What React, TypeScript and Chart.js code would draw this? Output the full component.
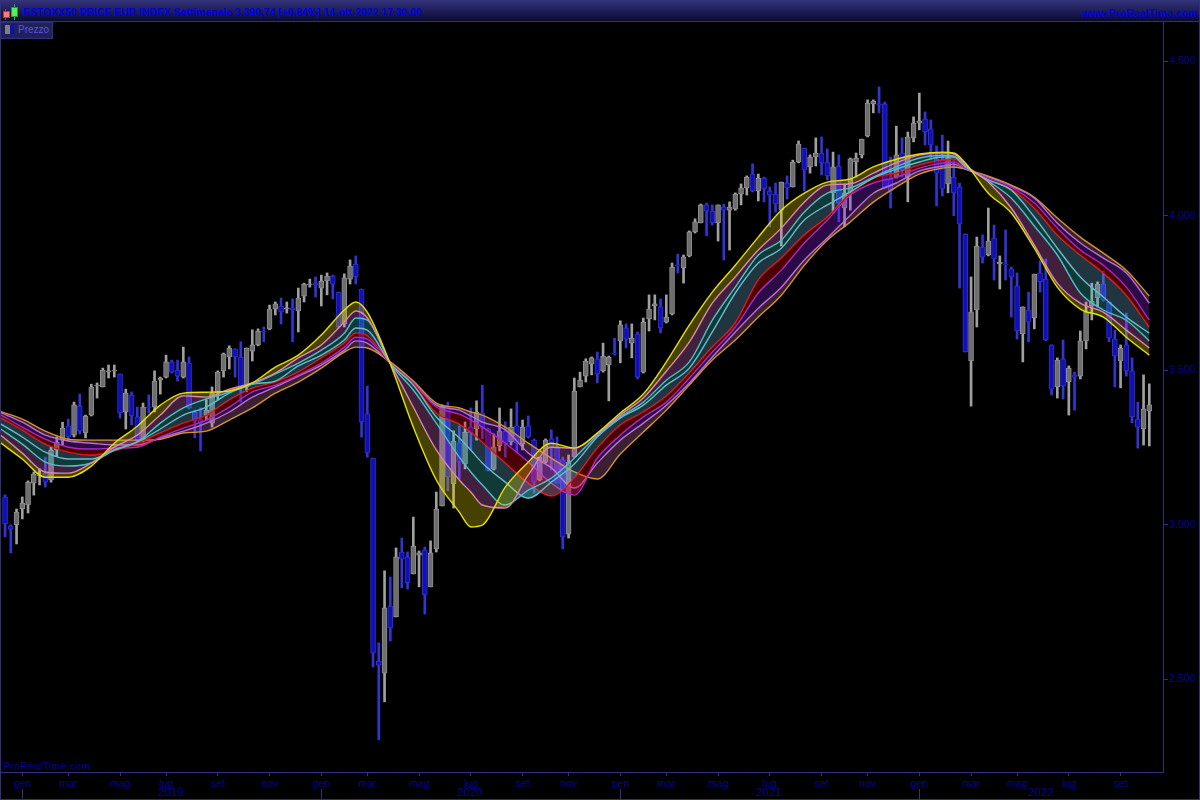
import React, { useEffect, useRef } from "react";
import { Chart, registerables } from "chart.js";

Chart.register(...registerables);

const opens = [
3090,2996,3000,3051,3064,3135,3158,3167,3145,3242,
3274,3320,3290,3384,3297,3355,3449,3446,3494,3498,
3488,3365,3420,3349,3274,3381,3381,3468,3478,3527,
3501,3478,3524,3365,3339,3355,3329,3427,3498,3543,
3569,3543,3446,3562,3582,3627,3634,3698,3708,3698,
3702,3692,3740,3776,3782,3766,3789,3805,3753,3650,
3795,3844,3763,3359,3216,2559,2520,2737,2702,2912,
2896,2841,2902,2919,2799,2922,3061,3384,3132,3265,
3197,3316,3310,3362,3310,3180,3255,3303,3268,3320,
3261,3320,3274,3145,3203,3278,3249,3210,2970,3219,
3446,3481,3520,3537,3498,3517,3556,3595,3637,3588,
3617,3494,3666,3708,3705,3656,3682,3841,3831,3870,
3948,3977,4035,4015,3977,4028,4018,4022,4070,4090,
4135,4080,4122,4080,4070,4018,4106,4093,4174,4219,
4158,4190,4203,4174,4074,4161,4025,4074,4174,4197,
4258,4362,4362,4362,4119,4125,4203,4125,4252,4300,
4313,4281,4184,4180,4103,4125,4093,3941,3530,3695,
3899,3873,3928,3844,3844,3828,3773,3618,3695,3669,
3815,3795,3582,3446,3537,3462,3485,3481,3595,3708,
3734,3779,3721,3601,3530,3582,3498,3342,3310,3368,
];
const highs = [
3097,3000,3051,3090,3142,3171,3181,3219,3252,3284,
3332,3342,3397,3423,3355,3455,3459,3507,3517,3517,
3488,3439,3430,3381,3394,3420,3498,3478,3549,3533,
3533,3575,3543,3371,3378,3404,3446,3498,3556,3579,
3569,3592,3572,3631,3634,3640,3711,3721,3734,3721,
3731,3766,3782,3795,3802,3808,3815,3808,3753,3812,
3857,3870,3763,3449,3216,2618,2851,2831,2925,2957,
2912,3025,2915,2928,2948,3106,3388,3397,3304,3320,
3333,3378,3401,3452,3313,3294,3378,3333,3375,3397,
3339,3352,3278,3219,3278,3307,3284,3219,3226,3475,
3494,3537,3543,3559,3588,3546,3604,3660,3650,3650,
3624,3669,3744,3744,3731,3744,3847,3876,3873,3951,
3990,4038,4041,4035,4035,4038,4045,4074,4103,4129,
4168,4135,4125,4093,4106,4109,4129,4180,4242,4219,
4197,4252,4255,4216,4206,4197,4103,4187,4203,4248,
4375,4375,4417,4368,4190,4290,4252,4271,4320,4397,
4336,4310,4226,4261,4242,4180,4106,3941,3802,3931,
3938,4025,3970,3870,3954,3834,3815,3705,3753,3811,
3854,3860,3582,3540,3598,3514,3494,3627,3721,3782,
3786,3821,3721,3630,3582,3685,3540,3397,3485,3456,
];
const lows = [
2961,2909,2938,3019,3038,3096,3129,3122,3138,3222,
3258,3271,3284,3294,3281,3352,3410,3446,3475,3478,
3345,3310,3323,3268,3268,3362,3365,3423,3475,3491,
3465,3475,3375,3281,3239,3339,3316,3404,3478,3504,
3478,3397,3430,3530,3579,3592,3631,3679,3650,3685,
3592,3624,3721,3769,3737,3708,3744,3731,3637,3640,
3779,3779,3284,3219,2540,2304,2427,2624,2702,2796,
2792,2841,2799,2711,2799,2912,3061,3110,3054,3148,
3181,3242,3274,3278,3174,3177,3239,3219,3258,3232,
3242,3281,3103,3142,3200,3177,3135,2922,2957,3219,
3446,3462,3485,3459,3494,3401,3549,3524,3572,3540,
3472,3491,3627,3663,3621,3653,3679,3815,3782,3867,
3944,3977,3935,3970,3918,3857,3889,4018,4035,4067,
4077,4048,4045,3964,4012,3902,4054,4093,4171,4080,
4138,4161,4132,4116,4009,3980,3964,4018,4125,4187,
4255,4333,4333,4090,4025,4122,4125,4045,4239,4278,
4229,4187,4032,4064,4074,4000,3766,3559,3384,3640,
3847,3870,3792,3763,3792,3672,3601,3527,3592,3634,
3753,3595,3420,3410,3407,3355,3371,3472,3569,3663,
3705,3724,3592,3446,3443,3481,3330,3248,3258,3255,
];
const closes = [
3003,2986,3041,3070,3138,3164,3161,3138,3242,3268,
3313,3284,3388,3303,3352,3446,3452,3501,3498,3501,
3362,3426,3352,3274,3381,3378,3465,3475,3527,3494,
3481,3527,3378,3336,3329,3371,3427,3494,3553,3572,
3543,3446,3572,3582,3627,3624,3698,3715,3689,3702,
3695,3734,3779,3779,3776,3789,3805,3779,3640,3799,
3837,3802,3333,3232,2585,2546,2731,2666,2896,2889,
2812,2931,2909,2773,2909,3051,3384,3155,3271,3203,
3300,3297,3365,3313,3177,3252,3303,3261,3316,3265,
3316,3284,3138,3219,3274,3249,3135,2961,3203,3433,
3468,3530,3540,3488,3546,3543,3553,3647,3601,3604,
3478,3656,3698,3715,3637,3672,3834,3838,3867,3948,
3980,4035,4015,3977,4035,4018,4028,4070,4090,4125,
4080,4122,4087,4067,4038,4109,4090,4174,4232,4148,
4190,4203,4171,4129,4158,4041,4074,4184,4187,4248,
4365,4371,4358,4090,4080,4197,4148,4255,4300,4307,
4271,4229,4138,4087,4187,4074,3973,3559,3689,3902,
3866,3918,3860,3850,3841,3802,3627,3705,3656,3811,
3786,3598,3439,3533,3449,3507,3478,3595,3689,3724,
3779,3727,3605,3546,3572,3498,3349,3316,3375,3388,
];

const knotIndex = [-1,3,7,11,15,19,23,27,31,35,39,43,47,51,55,59,61,63,67,71,75,79,81,83,87,91,95,99,103,107,111,115,119,123,127,131,135,139,143,147,151,155,159,163,165,167,171,175,179,183,187,191,195,199];

const yellowBand = [3268,3213,3154,3154,3190,3264,3319,3387,3426,3429,3433,3459,3510,3549,3614,3695,3721,3688,3520,3316,3145,3041,2993,2999,3122,3203,3264,3248,3297,3362,3423,3527,3646,3753,3840,3931,4018,4073,4109,4119,4158,4183,4200,4206,4203,4171,4073,4009,3895,3769,3698,3672,3607,3549];
const pinkBand = [3294,3232,3171,3167,3200,3251,3290,3355,3417,3413,3439,3459,3491,3540,3582,3656,3692,3669,3523,3381,3242,3145,3106,3064,3054,3161,3251,3248,3294,3355,3410,3497,3591,3717,3802,3889,3960,4044,4099,4103,4138,4171,4196,4203,4200,4164,4109,4025,3905,3782,3717,3688,3630,3572];
const turquoiseBand = [3313,3261,3203,3190,3200,3242,3268,3329,3378,3407,3429,3455,3488,3523,3565,3620,3669,3662,3523,3436,3329,3219,3171,3129,3064,3112,3151,3216,3290,3349,3397,3468,3527,3662,3769,3873,3921,4012,4073,4090,4125,4158,4187,4196,4193,4161,4112,4057,3967,3873,3750,3695,3662,3595];
const skyBand = [3329,3284,3235,3213,3213,3242,3268,3310,3355,3381,3426,3455,3465,3514,3549,3598,3637,3630,3523,3452,3349,3281,3242,3200,3138,3086,3138,3197,3284,3345,3387,3452,3507,3624,3750,3847,3895,3986,4035,4077,4122,4151,4174,4190,4190,4158,4116,4083,3996,3895,3802,3737,3672,3620];
const redBand = [3349,3307,3261,3235,3226,3239,3264,3297,3329,3355,3404,3442,3462,3494,3540,3588,3620,3611,3523,3455,3362,3326,3300,3268,3200,3135,3093,3151,3248,3323,3365,3417,3491,3575,3653,3792,3863,3938,3996,4073,4122,4138,4164,4180,4183,4158,4116,4086,4025,3938,3873,3815,3743,3640];
const purpleBand = [3358,3316,3277,3251,3245,3248,3251,3284,3313,3339,3381,3430,3452,3485,3523,3575,3607,3601,3523,3459,3381,3358,3339,3316,3264,3203,3135,3096,3216,3290,3349,3397,3475,3559,3640,3750,3824,3912,3986,4067,4106,4125,4154,4171,4174,4154,4122,4093,4041,3960,3889,3840,3769,3662];
const mauveBand = [3365,3332,3290,3271,3264,3258,3258,3281,3303,3329,3365,3413,3446,3481,3517,3565,3595,3588,3523,3459,3387,3371,3352,3332,3307,3232,3184,3119,3200,3274,3329,3387,3459,3543,3624,3701,3769,3857,3928,4002,4073,4106,4145,4161,4167,4151,4125,4096,4057,3976,3912,3863,3815,3717];
const orangeBand = [3368,3342,3303,3277,3274,3274,3274,3277,3297,3303,3339,3378,3426,3462,3507,3559,3575,3572,3527,3465,3394,3378,3365,3355,3316,3264,3216,3171,3148,3229,3300,3371,3452,3533,3598,3672,3743,3840,3921,3980,4044,4093,4135,4154,4158,4151,4128,4099,4060,3993,3931,3879,3824,3740];

const priceTicks = [2500, 3000, 3500, 4000, 4500];
const monthTickIndex = [3,11,20,28,37,46,55,63,72,81,90,98,107,115,124,133,142,150,159,168,176,185,194];
const monthTickLabels = ["gen","mar","mag","lug","set","nov","gen","mar","mag","lug","set","nov","gen","mar","mag","lug","set","nov","gen","mar","mag","lug","set"];
const yearTickIndex = [3,55,107,159];
const yearLabels = ["2019","2020","2021","2022"];
const yearLabelIndex = [28.8,80.8,132.8,180.1];

const TITLE = "ESTOXX50 PRICE EUR INDEX Settimanale 3.390,74 [+0,84%] 14-ott-2022 17.30.00";
const FRAME = "#30307c";
const AXIS_TEXT = "#0000a8";
const FONT = "'Liberation Sans', sans-serif";

const bands = [
  { data: yellowBand, line: "#e6e000", fill: "rgba(255,235,0,0.28)" },
  { data: pinkBand, line: "#d678c8", fill: "rgba(230,115,215,0.28)" },
  { data: turquoiseBand, line: "#3cc8c4", fill: "rgba(57,207,200,0.28)" },
  { data: skyBand, line: "#70b8cc", fill: "rgba(115,190,225,0.28)" },
  { data: redBand, line: "#e80000", fill: "rgba(255,0,0,0.29)" },
  { data: purpleBand, line: "#a030d8", fill: "rgba(150,35,255,0.28)" },
  { data: mauveBand, line: "#c878c0", fill: "rgba(207,115,183,0.28)" },
  { data: orangeBand, line: "#d49a10", fill: false as const },
];

const yearPlugin = {
  id: "yearRow",
  afterDraw(chart: any) {
    const { ctx, scales } = chart;
    ctx.save();
    ctx.strokeStyle = FRAME;
    ctx.lineWidth = 1;
    yearTickIndex.forEach((v) => {
      const x = Math.round(scales.x.getPixelForValue(v)) + 0.5;
      ctx.beginPath();
      ctx.moveTo(x, 789);
      ctx.lineTo(x, 799);
      ctx.stroke();
    });
    ctx.fillStyle = AXIS_TEXT;
    ctx.font = `11.5px ${FONT}`;
    ctx.textAlign = "center";
    ctx.textBaseline = "middle";
    yearLabels.forEach((t, i) => ctx.fillText(t, scales.x.getPixelForValue(yearLabelIndex[i]), 793));
    ctx.restore();
  },
};

export default function App() {
  const ref = useRef<HTMLCanvasElement>(null);
  useEffect(() => {
    const isUp = (i: number) => closes[i] >= opens[i];
    const lineSets = bands.map((b, n) => ({
      type: "line" as const,
      label: `band${n}`,
      data: knotIndex.map((x, i) => ({ x, y: b.data[i] })),
      borderColor: b.line,
      borderWidth: 1.4,
      backgroundColor: b.fill || "transparent",
      fill: b.fill ? "+1" : false,
      pointRadius: 0,
      cubicInterpolationMode: "monotone",
      order: 1,
    }));
    const chart = new Chart(ref.current!, {
      type: "bar",
      data: {
        datasets: [
          ...lineSets,
          {
            type: "bar" as const,
            label: "wick",
            data: opens.map((_, i) => ({ x: i, y: [lows[i], highs[i]] })),
            backgroundColor: (c: any) => (isUp(c.dataIndex) ? "#a0a0a0" : "#3434d4"),
            barThickness: 2,
            grouped: false,
            order: 11,
          },
          {
            type: "bar" as const,
            label: "body",
            data: opens.map((_, i) => ({ x: i, y: [opens[i], closes[i]] })),
            backgroundColor: (c: any) => (isUp(c.dataIndex) ? "#6e6e6e" : "#1010b4"),
            borderColor: (c: any) => (isUp(c.dataIndex) ? "#8e8e8e" : "#3030d0"),
            borderWidth: 1,
            borderSkipped: false,
            barThickness: 5,
            grouped: false,
            order: 10,
          },
        ] as any,
      },
      options: {
        responsive: false,
        animation: false,
        devicePixelRatio: 1,
        layout: { padding: { left: 1, top: 22, right: 0, bottom: 0 } },
        plugins: { legend: { display: false }, tooltip: { enabled: false } },
        scales: {
          x: {
            type: "linear",
            min: -0.704,
            max: 201.38,
            offset: false,
            border: { color: FRAME },
            grid: { offset: false, drawOnChartArea: false, tickLength: 4, color: FRAME },
            ticks: {
              autoSkip: false,
              maxRotation: 0,
              padding: 2,
              color: AXIS_TEXT,
              font: { family: FONT, size: 10.5 },
              callback: (v: any) => monthTickLabels[monthTickIndex.indexOf(Number(v))] ?? "",
            },
            afterBuildTicks: (s: any) => {
              s.ticks = monthTickIndex.map((value) => ({ value }));
            },
            afterFit: (s: any) => {
              s.height = 28;
            },
          },
          y: {
            type: "linear",
            position: "right",
            min: 2200,
            max: 4627,
            border: { color: FRAME },
            grid: { drawOnChartArea: false, tickLength: 5, color: FRAME },
            ticks: {
              padding: 1,
              color: AXIS_TEXT,
              font: { family: FONT, size: 10.5 },
              callback: (v: any) => String(v).replace(/(\d)(\d{3})$/, "$1.$2"),
            },
            afterBuildTicks: (s: any) => {
              s.ticks = priceTicks.map((value) => ({ value }));
            },
            afterFit: (s: any) => {
              s.width = 37;
            },
          },
        },
      } as any,
      plugins: [yearPlugin],
    });
    return () => chart.destroy();
  }, []);

  return (
    <div style={{ position: "fixed", left: 0, top: 0, width: 1200, height: 800, background: "#000", overflow: "hidden" }}>
      <canvas ref={ref} width={1200} height={800} style={{ position: "absolute", left: 0, top: 0, display: "block" }} />
      <div style={{ position: "absolute", left: 0, top: 0, width: 1200, height: 21, background: "linear-gradient(#34347c,#0a0a34)", borderBottom: `1px solid ${FRAME}` }} />
      <div style={{ position: "absolute", left: 5, top: 9, width: 1, height: 11, background: "#c03030" }} />
      <div style={{ position: "absolute", left: 3, top: 11, width: 5, height: 5, background: "#f08080", border: "1px solid #d03030" }} />
      <div style={{ position: "absolute", left: 14, top: 4, width: 1, height: 16, background: "#20c020" }} />
      <div style={{ position: "absolute", left: 11, top: 7, width: 5, height: 8, background: "#50f060", border: "1px solid #20a020" }} />
      <div style={{ position: "absolute", left: 23, top: 6, color: "#0000e0", font: "bold 10.4px 'Liberation Sans', sans-serif", lineHeight: "14px", whiteSpace: "nowrap" }}>{TITLE}</div>
      <div style={{ position: "absolute", right: 3, top: 6, color: "#0000e0", font: "bold 10.5px 'Liberation Sans', sans-serif", lineHeight: "14px", whiteSpace: "nowrap" }}>www.ProRealTime.com</div>
      <div style={{ position: "absolute", left: 0, top: 22, width: 51, height: 15, background: "#20205c", border: `1px solid ${FRAME}` }} />
      <div style={{ position: "absolute", left: 5, top: 25, width: 5, height: 9, background: "#808080" }} />
      <div style={{ position: "absolute", left: 10, top: 25, width: 4, height: 9, background: "#1010b0" }} />
      <div style={{ position: "absolute", left: 18, top: 23, color: "#5858d8", font: `10px ${FONT}`, lineHeight: "14px" }}>Prezzo</div>
      <div style={{ position: "absolute", left: 3, top: 761, color: AXIS_TEXT, font: `10px ${FONT}`, lineHeight: "12px", letterSpacing: 0.5 }}>ProRealTime.com</div>
      <div style={{ position: "absolute", left: 0, top: 0, width: 1, height: 800, background: FRAME }} />
      <div style={{ position: "absolute", left: 1199, top: 0, width: 1, height: 800, background: FRAME }} />
      <div style={{ position: "absolute", left: 0, top: 799, width: 1200, height: 1, background: FRAME }} />
    </div>
  );
}
